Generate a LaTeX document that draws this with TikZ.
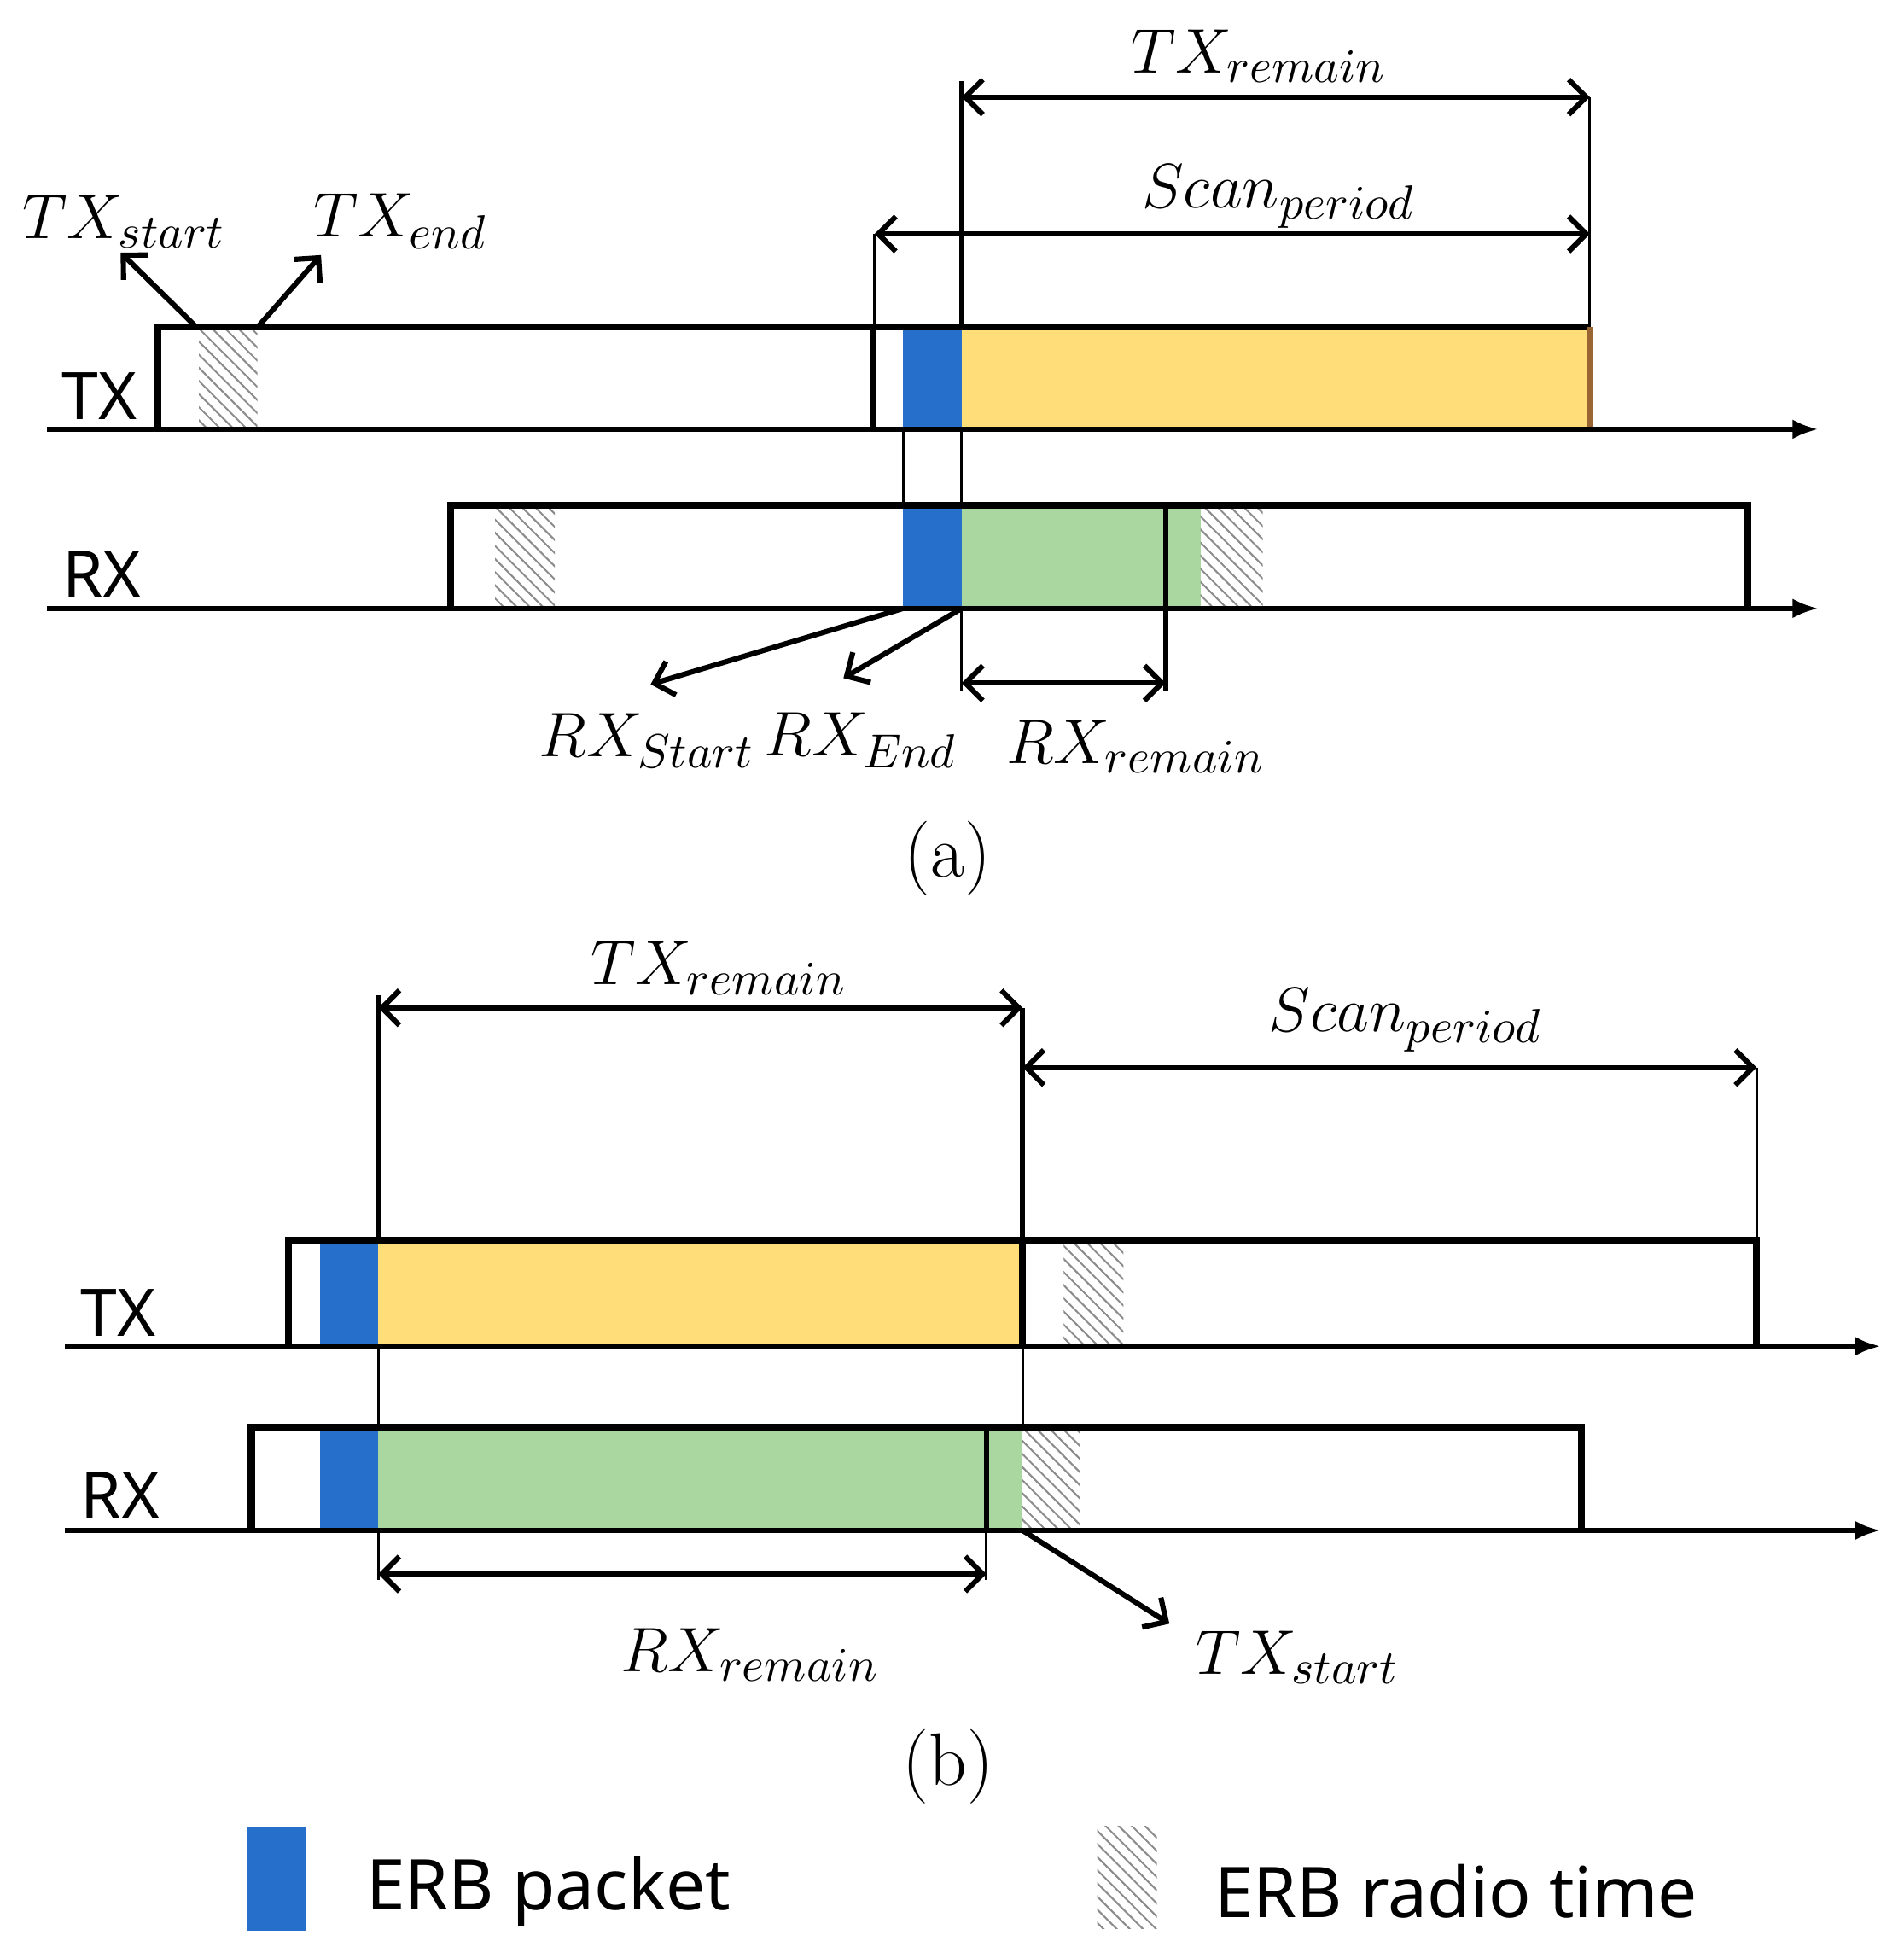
\documentclass[tikz,border=0pt]{standalone}
\usepackage{fontspec}
\newfontfamily\sansf{Noto Sans}
\usetikzlibrary{arrows.meta,patterns,calc,positioning}
\definecolor{erbblue}{RGB}{38,112,204}
\definecolor{txyellow}{RGB}{255,222,122}
\definecolor{rxgreen}{RGB}{170,214,160}
\tikzset{
	box/.style={draw,line width=1.6pt},
	axis/.style={line width=1.2pt,-{Latex[length=6pt]}},
	thin line/.style={line width=0.6pt},
	dim/.style={line width=1.2pt,{Straight Barb[length=4pt]}-{Straight Barb[length=4pt]}},
	pointer/.style={line width=1.2pt,-{Straight Barb[length=4pt]}},
	erb/.style={fill=erbblue,draw=none},
	radio/.style={fill=white,pattern=north west lines,pattern color=gray!90,draw=none},
	lbl/.style={font=\fontsize{15}{18}\selectfont},
	row/.style={font=\sansf\fontsize{15}{18}\selectfont},
}
\begin{document}
\begin{tikzpicture}[x=0.01cm,y=-0.01cm]
	\useasboundingbox (0,0) rectangle (1530,1560);
	% ---------------- (a)
	\fill[txyellow] (773,263) rectangle (1278,345);
	\fill[rxgreen] (773,406) rectangle (965,489);
	\fill[erb] (726,263) rectangle (773,345);
	\fill[erb] (726,406) rectangle (773,489);
	\fill[radio] (160,263) rectangle (207,345);
	\fill[radio] (398,406) rectangle (446,489);
	\fill[radio] (965,406) rectangle (1015,489);
	\draw[box] (127,345) |- (702,263) -- (702,345);
	\draw[box] (702,263) -- (1278,263);
	\draw[box,draw=brown!80!black] (1278,263) -- (1278,345);
	\draw[box] (362,489) |- (1405,406) -- (1405,489);
	\draw[axis] (38,345) -- (1462,345);
	\draw[axis] (38,489) -- (1462,489);
	\draw[thin line] (726,345) -- (726,406);
	\draw[thin line] (773,345) -- (773,406);
	\draw[line width=1.2pt] (773,263) -- (773,65);
	\draw[line width=1.2pt] (937,406) -- (937,555);
	\draw[thin line] (1278,263) -- (1278,78);
	\draw[thin line] (703,263) -- (703,188);
	\draw[thin line] (773,489) -- (773,555);
	\node (a-tx) at (80,318) [row] {TX};
	\node (a-rx) at (82,462) [row] {RX};
	\coordinate (a-rem-l) at (773,78);
	\coordinate (a-rem-r) at (1278,78);
	\coordinate (a-scan-l) at (703,188);
	\coordinate (a-scan-r) at (1278,188);
	\coordinate (a-rrem-l) at (773,549);
	\coordinate (a-rrem-r) at (937,549);
	\draw[dim] (a-rem-l) -- (a-rem-r);
	\draw[dim] (a-scan-l) -- (a-scan-r);
	\draw[dim] (a-rrem-l) -- (a-rrem-r);
	\node (a-txrem) at (1012,45) [lbl] {$TX_{remain}$};
	\node (a-scan) at (1028,158) [lbl] {$Scan_{period}$};
	\node (a-txs) at (100,178) [lbl] {$TX_{start}$};
	\node (a-txe) at (322,178) [lbl] {$TX_{end}$};
	\node (a-rxs) at (520,595) [lbl] {$RX_{Start}$};
	\node (a-rxe) at (692,595) [lbl] {$RX_{End}$};
	\node (a-rxrem) at (913,600) [lbl] {$RX_{remain}$};
	\coordinate (a-p1) at (158,263);
	\coordinate (a-p2) at (207,263);
	\coordinate (a-p3) at (726,489);
	\coordinate (a-p4) at (773,489);
	\draw[pointer] (a-p1) -- (97,203);
	\draw[pointer] (a-p2) -- (258,205);
	\draw[pointer] (a-p3) -- (523,550);
	\draw[pointer] (a-p4) -- (678,545);
	\node (a-cap) at (762,690) [font=\fontsize{17}{20}\selectfont] {(a)};
	% ---------------- (b)
	\fill[txyellow] (304,997) rectangle (822,1082);
	\fill[rxgreen] (304,1147) rectangle (822,1230);
	\fill[erb] (257,997) rectangle (304,1082);
	\fill[erb] (257,1147) rectangle (304,1230);
	\fill[radio] (855,997) rectangle (903,1082);
	\fill[radio] (822,1147) rectangle (868,1230);
	\draw[box] (232,1082) |- (1412,997) -- (1412,1082);
	\draw[box] (822,997) -- (822,1082);
	\draw[box] (202,1230) |- (1271,1147) -- (1271,1230);
	\draw[line width=1.2pt] (793,1147) -- (793,1230);
	\draw[axis] (52,1082) -- (1512,1082);
	\draw[axis] (52,1230) -- (1512,1230);
	\draw[line width=1.2pt] (304,800) -- (304,997);
	\draw[thin line] (304,1082) -- (304,1147);
	\draw[line width=1.2pt] (822,810) -- (822,997);
	\draw[thin line] (822,1082) -- (822,1147);
	\draw[thin line] (1412,858) -- (1412,997);
	\draw[thin line] (304,1230) -- (304,1270);
	\draw[thin line] (793,1230) -- (793,1270);
	\node (b-tx) at (95,1055) [row] {TX};
	\node (b-rx) at (97,1202) [row] {RX};
	\coordinate (b-rem-l) at (304,810);
	\coordinate (b-rem-r) at (822,810);
	\coordinate (b-scan-l) at (822,858);
	\coordinate (b-scan-r) at (1412,858);
	\coordinate (b-rrem-l) at (304,1265);
	\coordinate (b-rrem-r) at (793,1265);
	\draw[dim] (b-rem-l) -- (b-rem-r);
	\draw[dim] (b-scan-l) -- (b-scan-r);
	\draw[dim] (b-rrem-l) -- (b-rrem-r);
	\node (b-txrem) at (578,778) [lbl] {$TX_{remain}$};
	\node (b-scan) at (1130,820) [lbl] {$Scan_{period}$};
	\node (b-rxrem) at (603,1330) [lbl] {$RX_{remain}$};
	\node (b-txs) at (1043,1332) [lbl] {$TX_{start}$};
	\coordinate (b-p1) at (822,1230);
	\draw[pointer] (b-p1) -- (940,1305);
	\node (b-cap) at (762,1420) [font=\fontsize{17}{20}\selectfont] {(b)};
	% ---------------- legend
	\fill[erb] (198,1468) rectangle (246,1552);
	\fill[radio] (882,1468) rectangle (930,1550);
	\node (l-pkt) at (282,1520) [row,anchor=west,font=\sansf\fontsize{16}{18}\selectfont] {ERB packet};
	\node (l-rad) at (964,1520) [row,anchor=west,font=\sansf\fontsize{16}{18}\selectfont] {ERB radio time};
\end{tikzpicture}
\end{document}
